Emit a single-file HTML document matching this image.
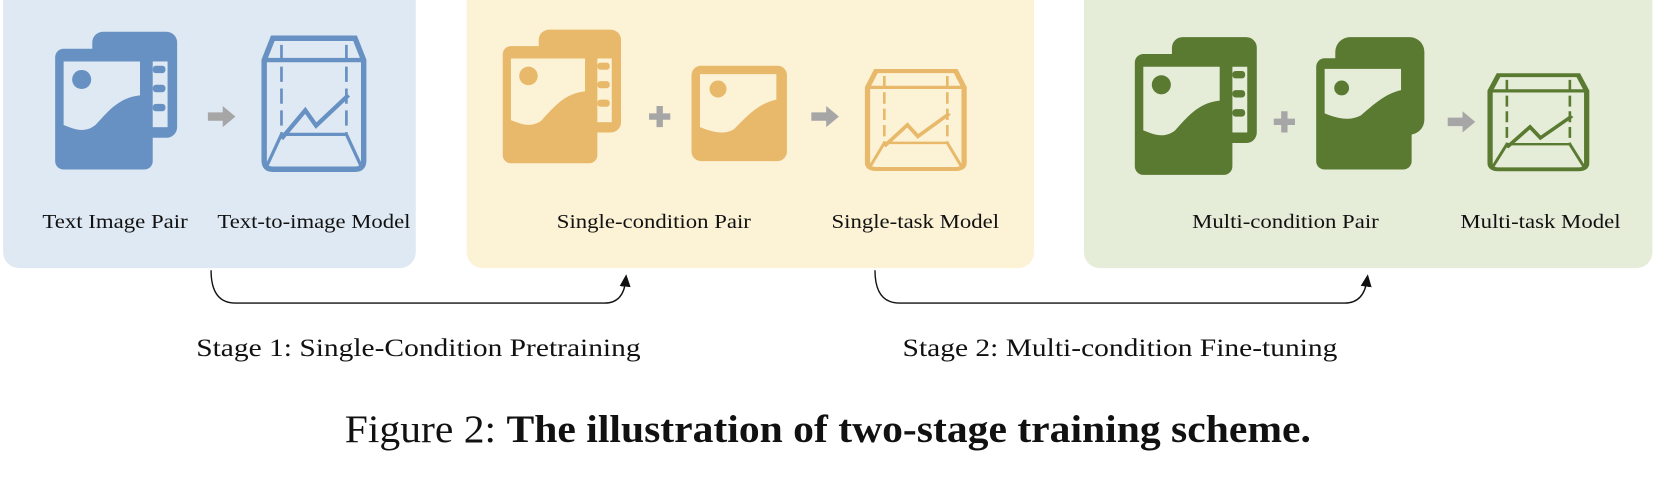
<!DOCTYPE html>
<html><head><meta charset="utf-8"><style>
html,body{margin:0;padding:0;background:#fff;}
svg{display:block;}
text{font-family:"Liberation Serif",serif;fill:#111;}
</style></head><body>
<svg width="1663" height="497" viewBox="0 0 1568 469" preserveAspectRatio="none" xmlns="http://www.w3.org/2000/svg">
<defs>
<g id="stack">
  <rect x="35" y="0" width="80" height="100" rx="10" fill="currentColor"/>
  <rect x="0" y="16" width="92" height="114" rx="8" fill="currentColor"/>
  <rect x="92" y="28" width="14" height="62" fill="var(--bg)"/>
  <rect x="92" y="32" width="12" height="7" rx="3" fill="currentColor"/>
  <rect x="92" y="50" width="12" height="7" rx="3" fill="currentColor"/>
  <rect x="92" y="68" width="12" height="7" rx="3" fill="currentColor"/>
  <path d="M8 28 H80 V60 C60 62 50 75 38 88 C28 96 18 92 8 88 Z" fill="var(--bg)"/>
  <circle cx="25" cy="45" r="9" fill="currentColor"/>
</g>
<g id="single">
  <rect x="0" y="0" width="90" height="90" rx="9" fill="currentColor"/>
  <path d="M8 8 H80 V32 C62 36 52 48 40 60 C30 66 18 62 8 58 Z" fill="var(--bg)"/>
  <circle cx="25" cy="22" r="8" fill="currentColor"/>
</g>
<g id="model" fill="none" stroke="currentColor">
  <path d="M12 4 H88 L96 24 V116 Q96 124 88 124 H12 Q4 124 4 116 V24 Z" stroke-width="5"/>
  <line x1="6" y1="24" x2="94" y2="24" stroke-width="4"/>
  <line x1="20" y1="10" x2="20" y2="92" stroke-width="2.5" stroke-dasharray="14 6"/>
  <line x1="80" y1="10" x2="80" y2="92" stroke-width="2.5" stroke-dasharray="14 6"/>
  <line x1="20" y1="92" x2="80" y2="92" stroke-width="3"/>
  <line x1="6" y1="122" x2="20" y2="92" stroke-width="3"/>
  <line x1="94" y1="122" x2="80" y2="92" stroke-width="3"/>
  <path d="M20 96 L42 70 L52 84 L82 56" stroke-width="4"/>
</g>
<g id="arrow"><path d="M0 -4 H14 V-10 L26 0 L14 10 V4 H0 Z" fill="#a6a6a6"/></g>
<g id="plus"><path d="M-3 -10 H3 V-3 H10 V3 H3 V10 H-3 V3 H-10 V-3 H-3 Z" fill="#a6a6a6"/></g>
<marker id="ah" markerWidth="10" markerHeight="10" refX="5" refY="5" orient="auto"><path d="M0 1 L9 5 L0 9 Z" fill="#111"/></marker>
</defs>

<rect x="3" y="-20" width="389" height="273" rx="15" fill="#dfe9f3"/>
<rect x="440" y="-20" width="535" height="273" rx="15" fill="#fcf2d6"/>
<rect x="1022" y="-20" width="536" height="273" rx="15" fill="#e5edd9"/>

<g style="color:#6891c3;--bg:#dfe9f3">
  <use href="#stack" transform="translate(52,30)"/>
  <use href="#arrow" transform="translate(196,110)"/>
  <use href="#model" transform="translate(245,32) scale(1.02,1.03)"/>
</g>
<g style="color:#e8b96a;--bg:#fcf2d6">
  <use href="#stack" transform="translate(474,28) scale(0.97,0.97)"/>
  <use href="#plus" transform="translate(622,110)"/>
  <use href="#single" transform="translate(652,62)"/>
  <use href="#arrow" transform="translate(765,110)"/>
  <use href="#model" transform="translate(814,64) scale(0.99,0.77)"/>
</g>
<g style="color:#5a7a32;--bg:#e5edd9">
  <use href="#stack" transform="translate(1070,35)"/>
  <use href="#plus" transform="translate(1211,115)"/>
  <g transform="translate(1241,35)">
    <rect x="18" y="0" width="84" height="92" rx="14" fill="currentColor"/>
    <rect x="0" y="20" width="90" height="105" rx="8" fill="currentColor"/>
    <path d="M8 30 H80 V50 C64 54 54 64 42 74 C30 80 18 76 8 72 Z" fill="#e5edd9"/>
    <circle cx="24" cy="48" r="7" fill="currentColor"/>
  </g>
  <use href="#arrow" transform="translate(1365,115)"/>
  <use href="#model" transform="translate(1401,68) scale(0.99,0.74)"/>
</g>

<g font-size="19" lengthAdjust="spacingAndGlyphs">
  <text x="40" y="215" textLength="137" lengthAdjust="spacingAndGlyphs">Text Image Pair</text>
  <text x="205" y="215" textLength="182" lengthAdjust="spacingAndGlyphs">Text-to-image Model</text>
  <text x="525" y="215" textLength="183" lengthAdjust="spacingAndGlyphs">Single-condition Pair</text>
  <text x="784" y="215" textLength="158" lengthAdjust="spacingAndGlyphs">Single-task Model</text>
  <text x="1124" y="215" textLength="176" lengthAdjust="spacingAndGlyphs">Multi-condition Pair</text>
  <text x="1377" y="215" textLength="151" lengthAdjust="spacingAndGlyphs">Multi-task Model</text>
</g>

<path d="M199 255 Q199 286 222 286 H570 Q588 286 590 264" fill="none" stroke="#111" stroke-width="1.3" marker-end="url(#ah)"/>
<path d="M825 255 Q825 286 848 286 H1268 Q1286 286 1289 264" fill="none" stroke="#111" stroke-width="1.3" marker-end="url(#ah)"/>

<g font-size="24">
  <text x="185" y="336" textLength="419" lengthAdjust="spacingAndGlyphs">Stage 1: Single-Condition Pretraining</text>
  <text x="851" y="336" textLength="410" lengthAdjust="spacingAndGlyphs">Stage 2: Multi-condition Fine-tuning</text>
</g>
<text x="325" y="417" font-size="37" textLength="911" lengthAdjust="spacingAndGlyphs">Figure 2: <tspan font-weight="bold">The illustration of two-stage training scheme.</tspan></text>
</svg>
</body></html>
